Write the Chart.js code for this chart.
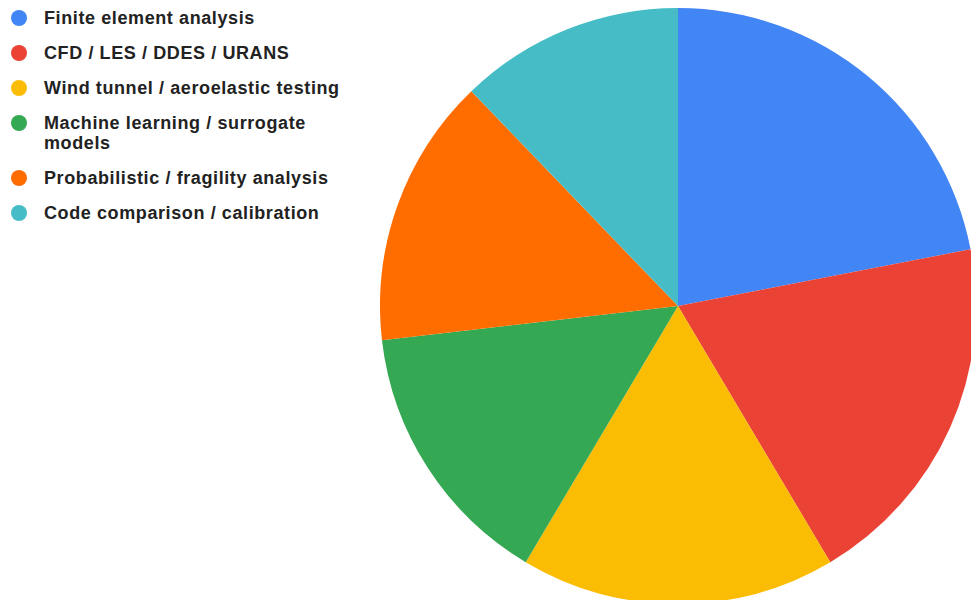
<!DOCTYPE html>
<meta charset="utf-8">
<style>
html, body {
  margin: 0;
  width: 971px;
  height: 600px;
  overflow: hidden;
  background: #fff;
}

.legend {
  position: absolute;
  left: 11px;
  top: 8px;
  margin: 0;
  padding: 0;
  list-style: none;
  font-family: "Liberation Sans", Arial, sans-serif;
  font-weight: bold;
  font-size: 18px;
  letter-spacing: 0.6px;
  line-height: 20px;
  color: #222;
}

.legend li {
  display: flex;
  align-items: flex-start;
  margin-bottom: 15px;
}

.legend .dot {
  flex: none;
  width: 16px;
  height: 16px;
  border-radius: 50%;
  margin-top: 2px;
  margin-right: 17px;
}

.legend .label {
  width: 300px;
}

.pie-wrap {
  position: absolute;
  left: 380px;
  top: 8px;
  width: 596px;
  height: 596px;
}
</style>
<body>

<ul class="legend js-legend"></ul>
<div class="pie-wrap"><canvas class="js-chart"></canvas></div>

<script src="https://cdn.jsdelivr.net/npm/chart.js@4"></script>
<script>
"use strict";

var categories = [
  "Finite element analysis",
  "CFD / LES / DDES / URANS",
  "Wind tunnel / aeroelastic testing",
  "Machine learning / surrogate models",
  "Probabilistic / fragility analysis",
  "Code comparison / calibration"
];

var studyCounts = [18, 16, 14, 12, 12, 10];

var sliceColors = ["#4285F4", "#EA4335", "#FBBC04", "#34A853", "#FF6D01", "#46BDC6"];

// legend sits on the left, outside the canvas, like the original
var legend = document.querySelector(".js-legend");
categories.forEach(function (name, i) {
  var li = document.createElement("li");
  li.innerHTML = '<span class="dot" style="background:' + sliceColors[i] + '"></span>' +
    '<span class="label">' + name + '</span>';
  legend.appendChild(li);
});

new Chart(document.querySelector(".js-chart"), {
  type: "pie",
  data: {
    labels: categories,
    datasets: [{
      data: studyCounts,
      backgroundColor: sliceColors,
      borderWidth: 0
    }]
  },
  options: {
    responsive: true,
    maintainAspectRatio: false,
    animation: false,
    layout: { padding: 0 },
    plugins: {
      legend: { display: false },
      tooltip: { enabled: false }
    }
  }
});
</script>
</body>
